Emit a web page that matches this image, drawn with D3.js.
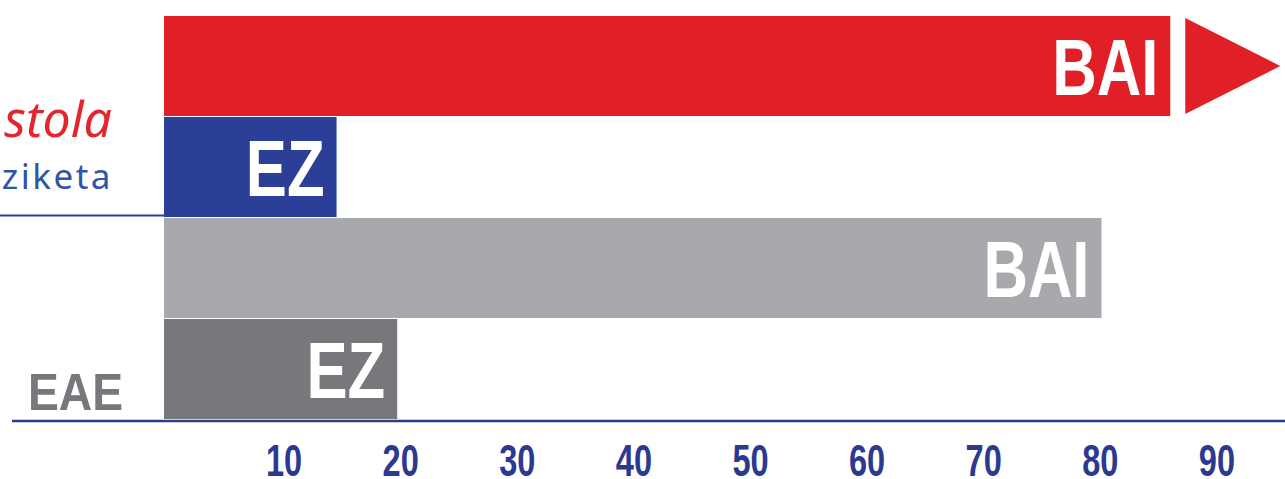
<!DOCTYPE html>
<html>
<head>
<meta charset="utf-8">
<script src="https://cdn.jsdelivr.net/npm/d3@7"></script>
<style>
  html, body { margin: 0; padding: 0; background: #fff; overflow: hidden; }
</style>
</head>
<body>
<svg id="chart"></svg>
<script>
// Data
const rowLabels = ["BAI", "EZ", "BAI", "EZ"]
const values = [86.3, 14.8, 80.4, 20.0]
const groupLabels = ["stola", "ziketa", "EAE"]
const tickValues = [10, 20, 30, 40, 50, 60, 70, 80, 90]

// Styles
const barColors = ["#e11f27", "#2b3f98", "#a7a9ac", "#77787b"]
const boldFont = "'Liberation Sans', Arial, Helvetica, sans-serif"

const width = 1285
const height = 479

const svg = d3.select("#chart").attr("width", width).attr("height", height)

// X scale: ~11.66px per unit, zero at the bars' left edge
const x = d3.scaleLinear().domain([0, 90]).range([164, 164 + 90 * 11.66])

// Y scale: one band per bar
const y = d3.scaleBand().domain(d3.range(values.length)).range([16, 419]).paddingInner(0.01)

// Bars
svg
  .selectAll("rect.bar")
  .data(values)
  .enter()
  .append("rect")
  .attr("class", "bar")
  .attr("x", x(0))
  .attr("y", (d, i) => y(i))
  .attr("width", (d) => x(d) - x(0))
  .attr("height", y.bandwidth())
  .attr("fill", (d, i) => barColors[i])

// Arrow head after the first bar
const a0 = x(values[0]) + 15
const top0 = y(0) + 2
const bot0 = y(0) + y.bandwidth() - 2
svg
  .append("path")
  .attr("d", `M${a0},${top0}L${a0 + 95},${(top0 + bot0) / 2}L${a0},${bot0}Z`)
  .attr("fill", barColors[0])

// Labels inside the bars (condensed by squeezing horizontally)
svg
  .selectAll("text.in")
  .data(values)
  .enter()
  .append("text")
  .attr("class", "in")
  .attr("transform", (d, i) => `translate(${x(d) - 12},${y(i) + y.bandwidth() / 2 + 29}) scale(0.77,1)`)
  .attr("text-anchor", "end")
  .style("font-family", boldFont)
  .style("font-weight", "bold")
  .style("font-size", "80px")
  .attr("fill", "#ffffff")
  .text((d, i) => rowLabels[i])

// Left group labels
svg
  .append("text")
  .attr("x", 112)
  .attr("y", 137)
  .attr("text-anchor", "end")
  .style("font-family", "'Noto Sans', sans-serif")
  .style("font-style", "italic")
  .style("font-size", "50px")
  .attr("fill", "#e3262d")
  .text(groupLabels[0])

svg
  .append("text")
  .attr("x", 113)
  .attr("y", 189)
  .attr("text-anchor", "end")
  .style("font-family", "'Noto Sans', sans-serif")
  .style("font-size", "35px")
  .style("letter-spacing", "2.5px")
  .attr("fill", "#2f55a8")
  .text(groupLabels[1])

svg
  .append("text")
  .attr("transform", "translate(28,410) scale(0.89,1)")
  .style("font-family", boldFont)
  .style("font-weight", "bold")
  .style("font-size", "52px")
  .attr("fill", "#77787b")
  .text(groupLabels[2])

// Separator under the first group
svg
  .append("line")
  .attr("x1", 0)
  .attr("x2", x(0))
  .attr("y1", 215.5)
  .attr("y2", 215.5)
  .attr("stroke", "#2b3f98")
  .attr("stroke-width", 2)

// X axis
const axis = svg
  .append("g")
  .attr("transform", "translate(0,421)")
  .call(d3.axisBottom(x).tickValues(tickValues).tickSize(0))

axis.select(".domain").remove()
axis
  .selectAll("text")
  .attr("y", 55)
  .attr("dy", null)
  .attr("transform", "translate(3,0) scale(0.74,1)")
  .style("font-family", boldFont)
  .style("font-weight", "bold")
  .style("font-size", "44px")
  .attr("fill", "#2b3990")

svg
  .append("line")
  .attr("x1", 12)
  .attr("x2", width)
  .attr("y1", 421)
  .attr("y2", 421)
  .attr("stroke", "#2b3a90")
  .attr("stroke-width", 2.5)
</script>
</body>
</html>
